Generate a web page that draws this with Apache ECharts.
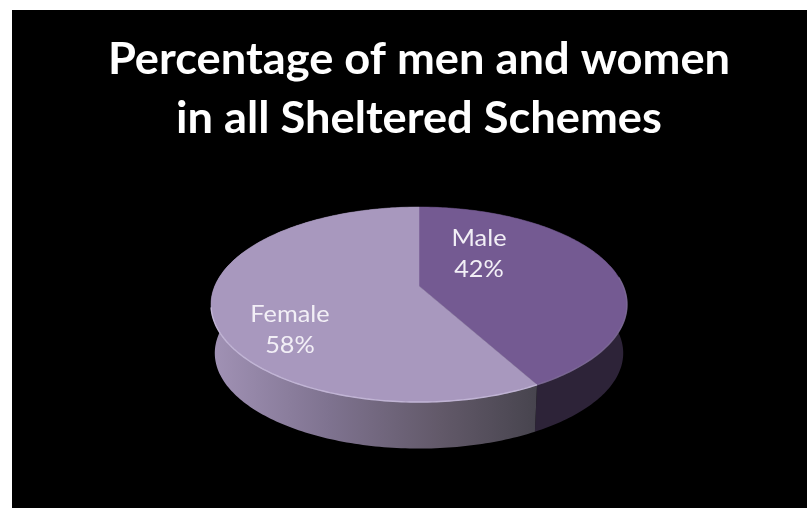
<!DOCTYPE html>
<html>
<head>
<meta charset="utf-8">
<style>html,body{margin:0;padding:0;background:#fff}#c{width:807px;height:508px}</style>
<script src="https://cdn.jsdelivr.net/npm/echarts@6/dist/echarts.min.js"></script>
</head>
<body>
<div id="c"></div>
<script>
// Data
const categories = ['Male', 'Female'];
const values = [42, 58];
const titleLines = ['Percentage of men and women', 'in all Sheltered Schemes'];

// Layout and style (kept apart from the data)
const topFace = { cx: 419, cy: 286, sx: 204.2, sy: 94 };
const baseFace = { cx: 419, cy: 335, sx: 200.5, sy: 92 };
const tilt = 0.19;
const topColors = ['#745a92', '#a898be'];
const rimColors = ['#85739c', '#c6bada'];
const rimOpacity = [0.7, 0.9];
const labelAt = [[479, 254], [290, 330]];
const total = values.reduce((a, b) => a + b, 0);

function project(f, turn) {
  const a = turn * 2 * Math.PI, X = Math.sin(a), Y = -Math.cos(a), w = 1 - tilt * Y;
  return [f.cx + f.sx * X / w, f.cy + f.sy * Y / w];
}
function arc(f, t0, t1) {
  const pts = [], n = Math.max(8, Math.ceil((t1 - t0) * 360));
  for (let i = 0; i <= n; i++) pts.push(project(f, t0 + (t1 - t0) * i / n));
  return pts;
}
function range(i) {
  const before = values.slice(0, i).reduce((a, b) => a + b, 0);
  return [before / total, (before + values[i]) / total];
}
const femaleSide = new echarts.graphic.LinearGradient(215, 0, 537, 0, [
  { offset: 0, color: '#a091b4' },
  { offset: 0.35, color: '#7f7390' },
  { offset: 0.7, color: '#625969' },
  { offset: 1, color: '#47444e' }
], true);
const seriesData = values.map((v, i) => ({ name: categories[i], value: [v] }));

const option = {
  animation: false,
  backgroundColor: '#ffffff',
  graphic: [
    { type: 'rect', z: -10, silent: true,
      shape: { x: 12, y: 10, width: 795, height: 498 },
      style: { fill: '#000000' } },
    { type: 'text', z: 10, silent: true, x: 419, y: 90, scaleX: 1.052,
      style: {
        text: titleLines.join('\n'), fill: '#ffffff',
        font: 'bold 43px Lato', lineHeight: 59,
        align: 'center', verticalAlign: 'middle'
      } }
  ],
  series: [
    {
      // side walls
      type: 'custom', coordinateSystem: 'none', z: 2, silent: true,
      data: seriesData,
      renderItem(params) {
        const [t0, t1] = range(params.dataIndex);
        const points = arc(topFace, t0, t1).concat(arc(baseFace, t0, t1).reverse());
        return {
          type: 'polygon', shape: { points },
          style: { fill: params.dataIndex === 0 ? '#2d2338' : femaleSide }
        };
      }
    },
    {
      // top faces, rim highlights and labels
      type: 'custom', coordinateSystem: 'none', z: 3, silent: true,
      data: seriesData,
      renderItem(params) {
        const i = params.dataIndex;
        const [t0, t1] = range(i);
        const mid = [topFace.cx, topFace.cy];
        const visible = i === 0 ? arc(topFace, 0.235, t1) : arc(topFace, t0, 0.715);
        return {
          type: 'group',
          children: [
            { type: 'polygon', shape: { points: [mid].concat(arc(topFace, t0, t1)) },
              style: { fill: topColors[i], stroke: topColors[i], lineWidth: 0.5 } },
            { type: 'polyline', shape: { points: visible },
              style: { fill: null, stroke: rimColors[i], lineWidth: 1.4, opacity: rimOpacity[i] } },
            { type: 'text', z2: 5, x: labelAt[i][0], y: labelAt[i][1], scaleX: 1.1,
              style: {
                text: categories[i] + '\n' + Math.round(values[i] / total * 100) + '%',
                fill: '#f2eff6', font: '23px Lato', lineHeight: 31,
                align: 'center', verticalAlign: 'middle'
              } }
          ]
        };
      }
    }
  ]
};

echarts.init(document.getElementById('c'), null, { renderer: 'canvas' }).setOption(option);
</script>
</body>
</html>
